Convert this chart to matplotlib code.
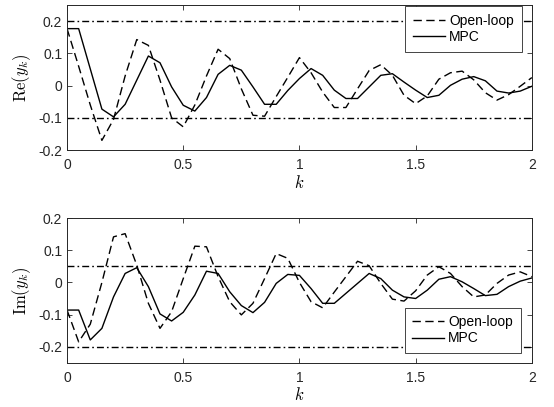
import numpy as np
import matplotlib
matplotlib.use("Agg")
import matplotlib.pyplot as plt

plt.rcParams['font.family'] = ['Liberation Sans', 'DejaVu Sans']
plt.rcParams['mathtext.fontset'] = 'cm'

# tiempo de muestreo 0.05, de 0 a 2
k = np.linspace(0, 2, 41)

re_open = [0.177, 0.06, -0.06, -0.17, -0.105, 0.03, 0.143, 0.125, 0.017, -0.1,
           -0.128, -0.06, 0.03, 0.113, 0.084, -0.01, -0.092, -0.095, -0.034, 0.026,
           0.087, 0.04, -0.02, -0.068, -0.068, -0.01, 0.047, 0.065, 0.032, -0.03,
           -0.056, -0.032, 0.02, 0.04, 0.045, 0.018, -0.022, -0.045, -0.028, -0.002,
           0.025]
re_mpc = [0.177, 0.177, 0.052, -0.073, -0.097, -0.058, 0.017, 0.092, 0.071, -0.004,
          -0.061, -0.079, -0.037, 0.035, 0.063, 0.048, -0.004, -0.058, -0.058, -0.015,
          0.022, 0.053, 0.032, -0.014, -0.04, -0.04, -0.004, 0.032, 0.037, 0.011,
          -0.014, -0.037, -0.03, 0.001, 0.02, 0.028, 0.015, -0.017, -0.023, -0.017,
          -0.002]
im_open = [-0.086, -0.185, -0.13, 0.0, 0.142, 0.152, 0.054, -0.065, -0.143, -0.091,
           0.012, 0.113, 0.111, 0.018, -0.06, -0.101, -0.065, 0.012, 0.09, 0.075,
           0.0, -0.06, -0.079, -0.03, 0.018, 0.066, 0.052, -0.003, -0.052, -0.058,
           -0.026, 0.023, 0.049, 0.028, -0.013, -0.045, -0.039, -0.003, 0.023, 0.033,
           0.018]
im_mpc = [-0.086, -0.086, -0.179, -0.143, -0.045, 0.028, 0.046, -0.013, -0.098, -0.12,
          -0.093, -0.039, 0.035, 0.028, -0.029, -0.072, -0.094, -0.062, -0.003, 0.025,
          0.022, -0.019, -0.065, -0.065, -0.034, -0.003, 0.028, 0.012, -0.024, -0.045,
          -0.05, -0.024, 0.01, 0.018, 0.002, -0.019, -0.041, -0.037, -0.013, 0.004,
          0.014]

re_limits = [0.2, -0.1]
im_limits = [0.05, -0.2]
yticks = [-0.2, -0.1, 0, 0.1, 0.2]
yticklabels = ['-0.2', '-0.1', '0', '0.1', '0.2']
xticks = [0, 0.5, 1, 1.5, 2]
xticklabels = ['0', '0.5', '1', '1.5', '2']

gris = '#262626'

fig = plt.figure(figsize=(5.54, 4.07), dpi=100)
ax1 = fig.add_axes([0.121, 0.6314, 0.839, 0.356])
ax2 = fig.add_axes([0.121, 0.1088, 0.839, 0.355])

paneles = [
    (ax1, re_open, re_mpc, re_limits, (-0.2, 0.25), r'$\mathrm{Re}(y_k)$',
     'upper right', (0.978, 0.993)),
    (ax2, im_open, im_mpc, im_limits, (-0.25, 0.2), r'$\mathrm{Im}(y_k)$',
     'lower right', (0.976, 0.067)),
]

for ax, y_open, y_mpc, lims, ylim, ylab, loc, anchor in paneles:
    for v in lims:
        ax.axhline(v, color='black', lw=1.0, dashes=(5, 2.2, 1.2, 2.2))
    ax.plot(k, y_open, color='black', lw=1.0, dashes=(6, 3.2), label='Open-loop')
    ax.plot(k, y_mpc, color='black', lw=1.0, label='MPC')
    ax.set_xlim(0, 2)
    ax.set_ylim(*ylim)
    ax.set_xticks(xticks)
    ax.set_xticklabels(xticklabels)
    ax.set_yticks(yticks)
    ax.set_yticklabels(yticklabels)
    ax.tick_params(direction='in', top=True, right=True, length=3.3, width=0.6,
                   colors=gris, labelsize=10, labelcolor=gris)
    ax.tick_params(axis='x', pad=6)
    for s in ax.spines.values():
        s.set_color(gris)
        s.set_linewidth(0.7)
    ax.set_xlabel(r'$k$', fontsize=12, labelpad=1)
    ax.set_ylabel(ylab, fontsize=12, labelpad=4)
    leg = ax.legend(loc=loc, bbox_to_anchor=anchor, borderaxespad=0,
                    fontsize=10, fancybox=False, framealpha=1,
                    edgecolor=gris, handlelength=2.3, borderpad=0.55,
                    labelspacing=0.15, handletextpad=0.3)
    leg.get_frame().set_linewidth(0.6)

fig.savefig('out.png', dpi=100)
